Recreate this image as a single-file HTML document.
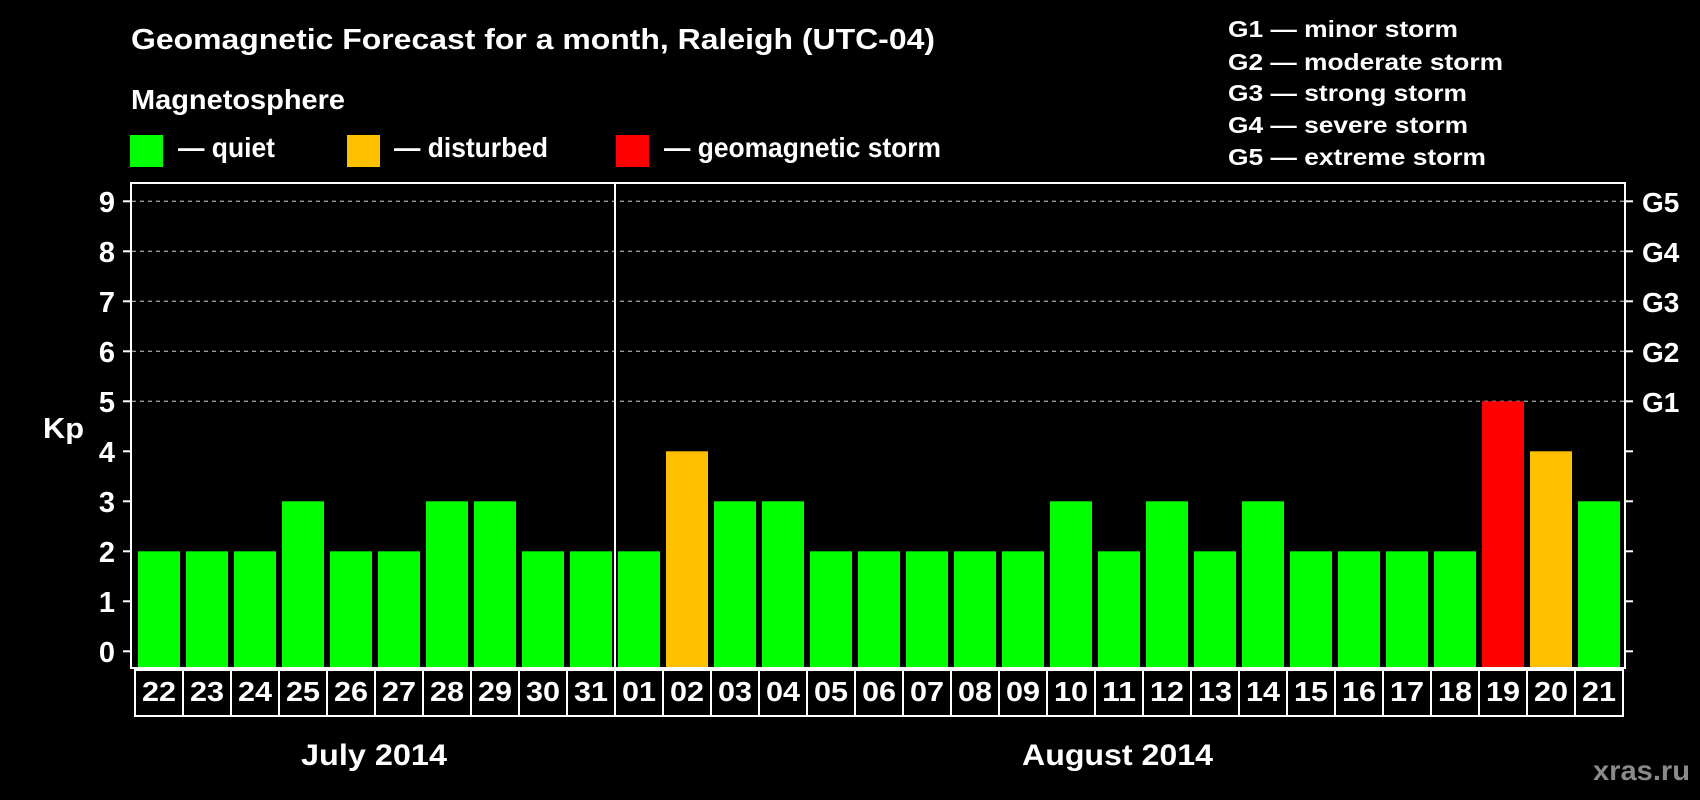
<!DOCTYPE html>
<html><head><meta charset="utf-8">
<style>
html,body{margin:0;padding:0;background:#000;}
svg{display:block;}
text{font-family:"Liberation Sans",Arial,sans-serif;font-weight:bold;fill:#fff;}
</style></head>
<body>
<svg id="chart" width="1700" height="800" viewBox="0 0 1700 800" xmlns="http://www.w3.org/2000/svg">
<rect x="0" y="0" width="1700" height="800" fill="#000"/>
<text x="131" y="49" font-size="29" textLength="804" lengthAdjust="spacingAndGlyphs">Geomagnetic Forecast for a month, Raleigh (UTC-04)</text>
<text x="131" y="109" font-size="28" textLength="214" lengthAdjust="spacingAndGlyphs">Magnetosphere</text>
<rect x="130" y="135" width="33" height="32" fill="#00ff00"/>
<text x="178" y="157" font-size="28" textLength="97" lengthAdjust="spacingAndGlyphs">— quiet</text>
<rect x="347" y="135" width="33" height="32" fill="#ffc000"/>
<text x="394" y="157" font-size="28" textLength="154" lengthAdjust="spacingAndGlyphs">— disturbed</text>
<rect x="616" y="135" width="33" height="32" fill="#ff0000"/>
<text x="664" y="157" font-size="28" textLength="277" lengthAdjust="spacingAndGlyphs">— geomagnetic storm</text>
<g font-size="23">
<text x="1228" y="37" textLength="230" lengthAdjust="spacingAndGlyphs">G1 — minor storm</text>
<text x="1228" y="70" textLength="275" lengthAdjust="spacingAndGlyphs">G2 — moderate storm</text>
<text x="1228" y="101" textLength="239" lengthAdjust="spacingAndGlyphs">G3 — strong storm</text>
<text x="1228" y="133" textLength="240" lengthAdjust="spacingAndGlyphs">G4 — severe storm</text>
<text x="1228" y="165" textLength="258" lengthAdjust="spacingAndGlyphs">G5 — extreme storm</text>
</g>
<text x="43" y="438" font-size="29" textLength="41" lengthAdjust="spacingAndGlyphs">Kp</text>
<g id="grid"></g>
<g id="bars"></g>
<g id="cells"></g>
<rect x="131" y="183" width="1494" height="485" fill="none" stroke="#fff" stroke-width="2"/>
<line x1="615" y1="183" x2="615" y2="668" stroke="#fff" stroke-width="2"/>
<text x="301" y="765" font-size="30" textLength="146" lengthAdjust="spacingAndGlyphs">July 2014</text>
<text x="1022" y="765" font-size="30" textLength="191" lengthAdjust="spacingAndGlyphs">August 2014</text>
<text x="1593" y="780" font-size="28" textLength="97" lengthAdjust="spacingAndGlyphs" style="fill:#8a8a8a">xras.ru</text>
</svg>
<script>
const days = ["22","23","24","25","26","27","28","29","30","31","01","02","03","04","05","06","07","08","09","10","11","12","13","14","15","16","17","18","19","20","21"];
const kpValues = [2,2,2,3,2,2,3,3,2,2,2,4,3,3,2,2,2,2,2,3,2,3,2,3,2,2,2,2,5,4,3];
const yTicks = [0,1,2,3,4,5,6,7,8,9];
const gLabels = ["G1","G2","G3","G4","G5"];
const gLevels = [5,6,7,8,9];

const NS = "http://www.w3.org/2000/svg";
const y0 = 651.3, unit = 50;
const yScale = v => y0 - v * unit;
const x0 = 138, pitch = 48, barW = 42;
const xScale = i => x0 + i * pitch;
function mk(tag, attrs, parent){const e=document.createElementNS(NS,tag);for(const k in attrs)e.setAttribute(k,attrs[k]);parent.appendChild(e);return e;}
const grid=document.getElementById('grid'), bars=document.getElementById('bars'), cells=document.getElementById('cells');

yTicks.forEach(v=>{
  const y=yScale(v);
  if(v>=5){
    const g=mk('line',{x1:132,x2:1624,y1:y,y2:y,stroke:'#999','stroke-width':1.3,'stroke-dasharray':'4 4'},grid);
    
    
  }
  const t1=mk('line',{x1:123,x2:131,y1:y,y2:y,stroke:'#fff','stroke-width':2},grid);
  
  
  const t2=mk('line',{x1:1625,x2:1633,y1:y,y2:y,stroke:'#fff','stroke-width':2},grid);
  
  
  const lab=mk('text',{x:115,y:y+10.5,'font-size':29,'text-anchor':'end'},grid);
  lab.textContent=String(v);
  
  
});
gLevels.forEach((v,i)=>{
  const lab=mk('text',{x:1642,y:yScale(v)+10.5,'font-size':28},grid);
  lab.textContent=gLabels[i];
  
  
});
kpValues.forEach((v,i)=>{
  const col = v>=5 ? '#ff0000' : (v===4 ? '#ffc000' : '#00ff00');
  const y=yScale(v);
  const r=mk('rect',{x:xScale(i),y:y,width:barW,height:667-y,fill:col},bars);
  
  
  const c=mk('rect',{x:xScale(i)-3,y:670,width:pitch,height:46,fill:'none',stroke:'#fff','stroke-width':2},cells);
  
  
  const t=mk('text',{x:xScale(i)+barW/2,y:701,'font-size':28,'text-anchor':'middle',textLength:34,lengthAdjust:'spacingAndGlyphs'},cells);
  t.textContent=days[i];
  
  
});
</script>
</body></html>
